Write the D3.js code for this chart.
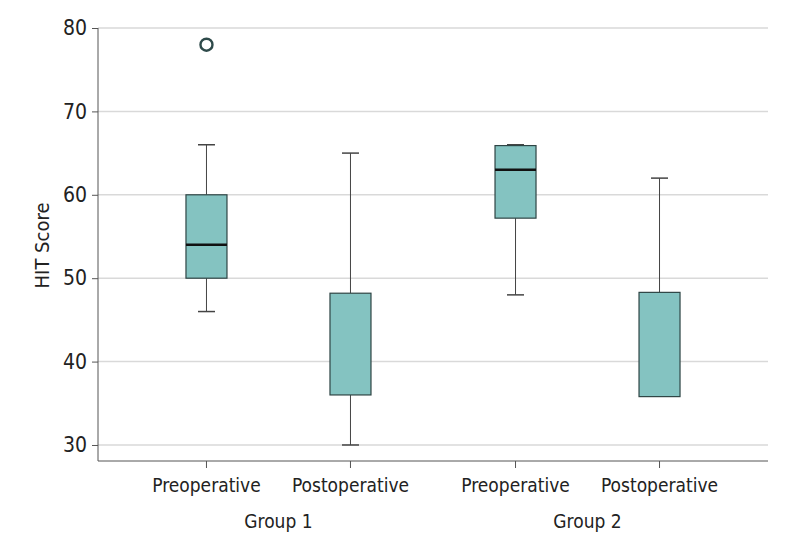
<!DOCTYPE html>
<html><head><meta charset="utf-8">
<script src="https://cdn.jsdelivr.net/npm/d3@7"></script>
<style>
body{margin:0;background:#fff;}
text{font-family:"DejaVu Sans Condensed","Liberation Sans Narrow","Open Sans",sans-serif;fill:#222;}
</style></head><body>
<svg id="c" width="798" height="546"></svg>
<script>
const groups = ["Group 1", "Group 2"];
const phases = ["Preoperative", "Postoperative"];
const whiskerLow  = [46, 30, 48, 35.8];
const q1          = [50, 36, 57.2, 35.8];
const median      = [54, null, 63, null];
const q3          = [60, 48.2, 65.9, 48.3];
const whiskerHigh = [66, 65, 66, 62];
const outliers    = [[78], [], [], []];
const yTicks = [30, 40, 50, 60, 70, 80];

const svg = d3.select("#c");
const L = 98, R = 768, T = 28, B = 461;
const y = d3.scaleLinear().domain([28.08, 80]).range([B, T]);
const xg = d3.scaleBand().domain(groups).range([L, R]).paddingInner(0).paddingOuter(0.084);
const xp = d3.scaleBand().domain(phases).range([0, xg.bandwidth()]).paddingInner(0).paddingOuter(0.073);
const cx = i => xg(groups[Math.floor(i/2)]) + xp(phases[i%2]) + xp.bandwidth()/2;

// grid
svg.append("g").selectAll("line").data(yTicks).join("line")
  .attr("x1", L).attr("x2", R).attr("y1", d => y(d)).attr("y2", d => y(d))
  .attr("stroke", "#d9d9d9").attr("stroke-width", 1.5);

// y axis
const ya = svg.append("g").attr("transform", `translate(${L},0)`)
  .call(d3.axisLeft(y).tickValues(yTicks).tickSize(6).tickPadding(5));
ya.select(".domain").attr("stroke", "#555").attr("d", `M0,${T}V${B}`);
ya.selectAll(".tick line").attr("stroke", "#555");
ya.selectAll(".tick text").style("font-size", "21px").attr("fill", "#222");

// x axis
const xa = svg.append("g").attr("transform", `translate(0,${B})`);
xa.append("line").attr("x1", L).attr("x2", R).attr("stroke", "#555");
const idx = [0,1,2,3];
xa.selectAll(".tk").data(idx).join("line").attr("class","tk")
  .attr("x1", cx).attr("x2", cx).attr("y1", 0).attr("y2", 7).attr("stroke", "#555");
xa.selectAll(".lb").data(idx).join("text").attr("class","lb")
  .attr("x", cx).attr("y", 31).attr("text-anchor", "middle")
  .style("font-size", "19px").text(i => phases[i%2]);
xa.selectAll(".gl").data(groups).join("text").attr("class","gl")
  .attr("x", g => xg(g) + xg.bandwidth()/2).attr("y", 67).attr("text-anchor", "middle")
  .style("font-size", "19px").text(g => g);

// y label
svg.append("text").attr("transform", `translate(49,${(y(50)+y(60))/2+9}) rotate(-90)`)
  .attr("text-anchor", "middle").style("font-size", "20px").text("HIT Score");

// boxes
const bw = 41, cap = 17;
const gb = svg.append("g");
idx.forEach(i => {
  const x0 = cx(i);
  const g = gb.append("g");
  g.append("line").attr("x1", x0).attr("x2", x0).attr("y1", y(whiskerHigh[i])).attr("y2", y(q3[i])).attr("stroke", "#444");
  g.append("line").attr("x1", x0).attr("x2", x0).attr("y1", y(q1[i])).attr("y2", y(whiskerLow[i])).attr("stroke", "#444");
  g.append("line").attr("x1", x0-cap/2).attr("x2", x0+cap/2).attr("y1", y(whiskerHigh[i])).attr("y2", y(whiskerHigh[i])).attr("stroke", "#444").attr("stroke-width", 1.5);
  if (whiskerLow[i] < q1[i])
    g.append("line").attr("x1", x0-cap/2).attr("x2", x0+cap/2).attr("y1", y(whiskerLow[i])).attr("y2", y(whiskerLow[i])).attr("stroke", "#444").attr("stroke-width", 1.5);
  g.append("rect").attr("x", x0-bw/2).attr("width", bw).attr("y", y(q3[i])).attr("height", y(q1[i]) - y(q3[i]))
    .attr("fill", "#84c3c1").attr("stroke", "#2e4444").attr("stroke-width", 1.2);
  if (median[i] != null)
    g.append("line").attr("x1", x0-bw/2).attr("x2", x0+bw/2).attr("y1", y(median[i])).attr("y2", y(median[i])).attr("stroke", "#111").attr("stroke-width", 2.5);
  outliers[i].forEach(o => {
    g.append("circle").attr("cx", x0).attr("cy", y(o)).attr("r", 6)
      .attr("fill", "none").attr("stroke", "#2e4a4a").attr("stroke-width", 2.4);
  });
});
</script></body></html>
